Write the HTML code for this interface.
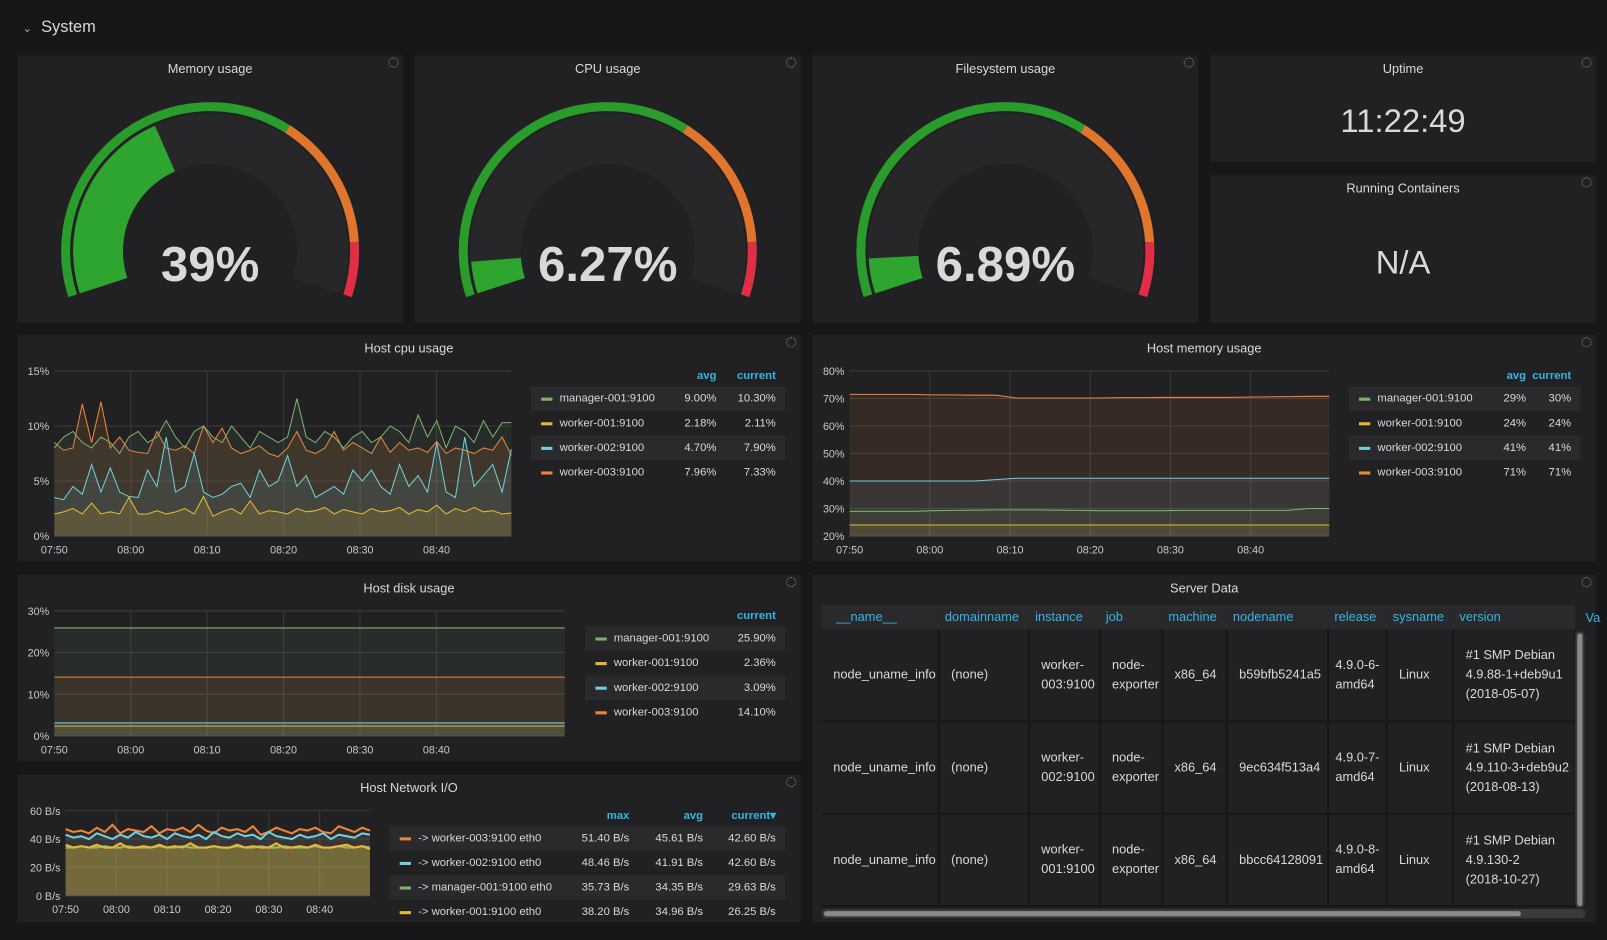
<!DOCTYPE html>
<html><head><meta charset="utf-8">
<style>
*{box-sizing:border-box;margin:0;padding:0}
body{width:1607px;height:940px;background:#161719;font-family:"Liberation Sans",sans-serif;color:#d8d9da;overflow:hidden;position:relative}
#root{position:absolute;left:0;top:0;width:1568px;height:917px;transform:scale(1.02487);transform-origin:0 0}
.panel{position:absolute;background:#212124}
.ptitle{position:absolute;left:0;right:0;top:6px;text-align:center;font-size:12.5px;color:#d8d9da}
.spin{position:absolute;right:4px;top:2px;width:10px;height:10px;border:1px dotted #888;border-radius:50%}
.big{position:absolute;left:0;right:0;text-align:center;font-weight:bold;color:#d8d9da}
svg text{font-family:"Liberation Sans",sans-serif}
.leg{position:absolute;font-size:11px;color:#d8d9da}
.leg .row{position:relative;height:24px;line-height:24px}
.leg .row.alt{background:#2a2a2d}
.leg .hdr{height:20px;line-height:20px;color:#33b5e5;font-weight:bold;position:relative}
.sw{position:absolute;top:11px;width:11px;height:3px}
.tbl{position:absolute;left:802px;top:590px;width:735px;height:296px;overflow:hidden;font-size:12.5px}
.tbl table{border-collapse:collapse;table-layout:fixed;width:735px}
.tbl th{height:24px;background:#2a2a2d;color:#33b5e5;font-weight:normal;text-align:left;padding-left:6px;font-size:12.5px;white-space:nowrap}
.tbl td{height:90px;border-right:2px solid #161719;border-bottom:2px solid #161719;padding:0 1px 0 11px;line-height:19px;color:#d8d9da;vertical-align:middle}
.tbl td.rel{white-space:nowrap;padding-left:6px}
</style></head><body>
<div id="root">
<div style="position:absolute;left:22px;top:18px;font-size:16px;color:#d8d9da"><span style="font-size:11px;color:#aaa">&#8964;</span>&nbsp; System</div>

<div class="panel" style="left:17px;top:54px;width:376px;height:261px"><div class="ptitle">Memory usage</div><div class="spin"></div><svg id="g1" width="376" height="261" style="position:absolute;left:0;top:0"></svg></div>
<div class="panel" style="left:405px;top:54px;width:376px;height:261px"><div class="ptitle">CPU usage</div><div class="spin"></div><svg id="g2" width="376" height="261" style="position:absolute;left:0;top:0"></svg></div>
<div class="panel" style="left:793px;top:54px;width:376px;height:261px"><div class="ptitle">Filesystem usage</div><div class="spin"></div><svg id="g3" width="376" height="261" style="position:absolute;left:0;top:0"></svg></div>
<div class="panel" style="left:1181px;top:54px;width:376px;height:104px"><div class="ptitle">Uptime</div><div class="spin"></div><div class="big" style="top:46px;font-size:32px;font-weight:normal">11:22:49</div></div>
<div class="panel" style="left:1181px;top:171px;width:376px;height:144px"><div class="ptitle">Running Containers</div><div class="spin"></div><div class="big" style="top:67px;font-size:32px;font-weight:normal">N/A</div></div>

<div class="panel" style="left:17px;top:327px;width:764px;height:221px"><div class="ptitle">Host cpu usage</div><div class="spin"></div></div>
<div class="panel" style="left:793px;top:327px;width:764px;height:221px"><div class="ptitle">Host memory usage</div><div class="spin"></div></div>
<div class="panel" style="left:17px;top:561px;width:764px;height:182px"><div class="ptitle">Host disk usage</div><div class="spin"></div></div>
<div class="panel" style="left:17px;top:756px;width:764px;height:144px"><div class="ptitle">Host Network I/O</div><div class="spin"></div></div>
<div class="panel" style="left:793px;top:561px;width:764px;height:339px"><div class="ptitle">Server Data</div><div class="spin"></div></div>

<svg id="charts" width="1568" height="917" style="position:absolute;left:0;top:0"></svg>

<div class="leg" style="left:518px;top:357px;width:248px">
 <div class="hdr"><span style="position:absolute;right:67px">avg</span><span style="position:absolute;right:9px">current</span></div>
 <div class="row alt"><span class="sw" style="left:10px;background:#7eb26d"></span><span style="position:absolute;left:28px">manager-001:9100</span><span style="position:absolute;right:67px">9.00%</span><span style="position:absolute;right:9px">10.30%</span></div>
 <div class="row"><span class="sw" style="left:10px;background:#eab839"></span><span style="position:absolute;left:28px">worker-001:9100</span><span style="position:absolute;right:67px">2.18%</span><span style="position:absolute;right:9px">2.11%</span></div>
 <div class="row alt"><span class="sw" style="left:10px;background:#6ed0e0"></span><span style="position:absolute;left:28px">worker-002:9100</span><span style="position:absolute;right:67px">4.70%</span><span style="position:absolute;right:9px">7.90%</span></div>
 <div class="row"><span class="sw" style="left:10px;background:#ef843c"></span><span style="position:absolute;left:28px">worker-003:9100</span><span style="position:absolute;right:67px">7.96%</span><span style="position:absolute;right:9px">7.33%</span></div>
</div>
<div class="leg" style="left:1316px;top:357px;width:226px">
 <div class="hdr"><span style="position:absolute;right:53px">avg</span><span style="position:absolute;right:9px">current</span></div>
 <div class="row alt"><span class="sw" style="left:10px;background:#7eb26d"></span><span style="position:absolute;left:28px">manager-001:9100</span><span style="position:absolute;right:53px">29%</span><span style="position:absolute;right:9px">30%</span></div>
 <div class="row"><span class="sw" style="left:10px;background:#eab839"></span><span style="position:absolute;left:28px">worker-001:9100</span><span style="position:absolute;right:53px">24%</span><span style="position:absolute;right:9px">24%</span></div>
 <div class="row alt"><span class="sw" style="left:10px;background:#6ed0e0"></span><span style="position:absolute;left:28px">worker-002:9100</span><span style="position:absolute;right:53px">41%</span><span style="position:absolute;right:9px">41%</span></div>
 <div class="row"><span class="sw" style="left:10px;background:#ef843c"></span><span style="position:absolute;left:28px">worker-003:9100</span><span style="position:absolute;right:53px">71%</span><span style="position:absolute;right:9px">71%</span></div>
</div>
<div class="leg" style="left:571px;top:591px;width:195px">
 <div class="hdr"><span style="position:absolute;right:9px">current</span></div>
 <div class="row alt"><span class="sw" style="left:10px;background:#7eb26d"></span><span style="position:absolute;left:28px">manager-001:9100</span><span style="position:absolute;right:9px">25.90%</span></div>
 <div class="row"><span class="sw" style="left:10px;background:#eab839"></span><span style="position:absolute;left:28px">worker-001:9100</span><span style="position:absolute;right:9px">2.36%</span></div>
 <div class="row alt"><span class="sw" style="left:10px;background:#6ed0e0"></span><span style="position:absolute;left:28px">worker-002:9100</span><span style="position:absolute;right:9px">3.09%</span></div>
 <div class="row"><span class="sw" style="left:10px;background:#ef843c"></span><span style="position:absolute;left:28px">worker-003:9100</span><span style="position:absolute;right:9px">14.10%</span></div>
</div>
<div class="leg" style="left:380px;top:786px;width:386px">
 <div class="hdr"><span style="position:absolute;right:152px">max</span><span style="position:absolute;right:80px">avg</span><span style="position:absolute;right:9px">current&#9662;</span></div>
 <div class="row alt"><span class="sw" style="left:10px;background:#ef843c"></span><span style="position:absolute;left:28px">-&gt; worker-003:9100 eth0</span><span style="position:absolute;right:152px">51.40 B/s</span><span style="position:absolute;right:80px">45.61 B/s</span><span style="position:absolute;right:9px">42.60 B/s</span></div>
 <div class="row"><span class="sw" style="left:10px;background:#6ed0e0"></span><span style="position:absolute;left:28px">-&gt; worker-002:9100 eth0</span><span style="position:absolute;right:152px">48.46 B/s</span><span style="position:absolute;right:80px">41.91 B/s</span><span style="position:absolute;right:9px">42.60 B/s</span></div>
 <div class="row alt"><span class="sw" style="left:10px;background:#7eb26d"></span><span style="position:absolute;left:28px">-&gt; manager-001:9100 eth0</span><span style="position:absolute;right:152px">35.73 B/s</span><span style="position:absolute;right:80px">34.35 B/s</span><span style="position:absolute;right:9px">29.63 B/s</span></div>
 <div class="row"><span class="sw" style="left:10px;background:#eab839"></span><span style="position:absolute;left:28px">-&gt; worker-001:9100 eth0</span><span style="position:absolute;right:152px">38.20 B/s</span><span style="position:absolute;right:80px">34.96 B/s</span><span style="position:absolute;right:9px">26.25 B/s</span></div>
</div>

<div class="tbl">
<table>
<colgroup><col style="width:114px"><col style="width:88px"><col style="width:69px"><col style="width:61px"><col style="width:63px"><col style="width:99px"><col style="width:57px"><col style="width:65px"><col style="width:119px"></colgroup>
<tr><th style="padding-left:14px">__name__</th><th>domainname</th><th>instance</th><th>job</th><th>machine</th><th>nodename</th><th>release</th><th>sysname</th><th>version</th></tr>
<tr><td>node_uname_info</td><td>(none)</td><td>worker-003:9100</td><td>node-exporter</td><td>x86_64</td><td>b59bfb5241a5</td><td class="rel">4.9.0-6-<br>amd64</td><td>Linux</td><td style="white-space:nowrap">#1 SMP Debian<br>4.9.88-1+deb9u1<br>(2018-05-07)</td></tr>
<tr><td>node_uname_info</td><td>(none)</td><td>worker-002:9100</td><td>node-exporter</td><td>x86_64</td><td>9ec634f513a4</td><td class="rel">4.9.0-7-<br>amd64</td><td>Linux</td><td style="white-space:nowrap">#1 SMP Debian<br>4.9.110-3+deb9u2<br>(2018-08-13)</td></tr>
<tr><td>node_uname_info</td><td>(none)</td><td>worker-001:9100</td><td>node-exporter</td><td>x86_64</td><td>bbcc64128091</td><td class="rel">4.9.0-8-<br>amd64</td><td>Linux</td><td style="white-space:nowrap">#1 SMP Debian<br>4.9.130-2<br>(2018-10-27)</td></tr>
</table></div>
<div style="position:absolute;left:1547px;top:596px;font-size:12.5px;color:#33b5e5">Va</div>
<div style="position:absolute;left:1537px;top:616px;width:9px;height:270px;background:#3a3a3d;border-radius:4px"><div style="margin:2px;height:266px;width:5px;background:#8a8a8a;border-radius:3px"></div></div>
<div style="position:absolute;left:802px;top:887px;width:745px;height:9px;background:#3a3a3d;border-radius:4px"><div style="margin:2px;height:5px;width:680px;background:#8a8a8a;border-radius:3px"></div></div>
</div>

<script>
// ---------- gauge data ----------
const gaugeValues = [0.39, 0.0627, 0.0689];
const gaugeLabels = ["39%", "6.27%", "6.89%"];
const gaugeThresholds = [0.65, 0.90];

// ---------- cpu chart data ----------
const cpuTicks = ["0%","5%","10%","15%"];
const timeTicks = ["07:50","08:00","08:10","08:20","08:30","08:40"];
const cpuManager = [8,9,9.5,8.5,8,9,8.5,7.5,9,9.5,8.5,9,10.5,9,8,9.5,10,9,8.5,10,9,8,9.5,9,8.5,9,12.5,9,8.5,9.5,9,8,9,9.5,8.5,9,10,9.5,8.5,11,9,10.5,8,10,9.5,8.5,10.5,9,10.3,10.3];
const cpuWorker3 = [8.5,7.8,8,12,8.5,12.2,8,9,7.8,7.6,7.5,9.5,8,7.8,8.2,7.5,10,8.5,9.8,8,7.5,7.8,8.2,7.5,7.2,8,9.5,7.8,7.5,8,9.5,7.8,8.5,8,7.5,9,7.6,8.5,7.8,8,7.6,8.6,7.5,8,7.8,7.5,8,7.8,9,7.33];
const cpuWorker2 = [3.5,3.3,4.5,3.8,6.5,4,6.2,4,3.6,3.5,6,4.5,9,4,4.5,7.5,4,3.5,3.8,4.5,4.8,3.5,6,4.5,5,7.3,4.5,5.5,3.5,4,4.5,3.8,6,5,6,4.5,3.8,6.5,4.5,5.5,4,8.5,4,3.5,9,4.5,5.5,6.5,4,7.9];
const cpuWorker1 = [2,2.2,2.5,2,3,2,2.2,2,3.5,2,2,2.3,2,2.2,2.5,2,3.6,1.8,2.2,2.5,2,3.2,2,2.3,2.2,2,2.5,2.2,2.3,2.6,2,2.4,2.2,2,2.5,2.2,2.3,2.6,2,2.4,2.2,2.8,2,2.5,2.2,2.6,2.2,2.3,2,2.1];

// ---------- memory chart data ----------
const memTicks = ["20%","30%","40%","50%","60%","70%","80%"];
const memWorker3 = [71.5,71.5,71.5,71.5,71.3,71.3,71.2,71.2,70.2,70.2,70.2,70.2,70.2,70.3,70.3,70.4,70.4,70.4,70.4,70.5,70.6,70.7,70.8,70.8];
const memWorker2 = [40,40,40,40,40,40,40,40.5,41,41,41,41,41,41,41,41,41,41,41,41,41,41,41,41];
const memManager = [29,29,29,29,29.2,29.3,29.4,29.5,29.5,29.5,29.4,29.3,29.2,29.2,29.2,29.2,29.3,29.3,29.3,29.3,29.3,29.3,30,30];
const memWorker1 = [24,24,24,24,24,24,24,24,24,24,24,24,24,24,24,24,24,24,24,24,24,24,24,24];

// ---------- disk chart data ----------
const diskTicks = ["0%","10%","20%","30%"];
const diskManager = [25.9,25.9,25.9,25.9,25.9,25.9];
const diskWorker3 = [14.1,14.1,14.1,14.1,14.1,14.1];
const diskWorker2 = [3.09,3.09,3.09,3.09,3.09,3.09];
const diskWorker1 = [2.36,2.36,2.36,2.36,2.36,2.36];

// ---------- network chart data ----------
const netTicks = ["0 B/s","20 B/s","40 B/s","60 B/s"];
const netWorker3 = [47,45,46,44,48,45,50,44,47,46,45,49,44,47,46,48,45,50,46,44,48,46,47,45,49,43,45,48,46,44,47,46,48,45,44,49,47,45,48,46];
const netWorker2 = [43,41,42,40,44,42,40,43,41,45,42,41,43,40,44,42,41,43,40,45,42,41,44,42,43,40,45,42,41,40,43,41,42,44,40,43,42,41,44,43];
const netManager = [34,34,35,34,34,35,34,34,35,34,34,34,35,34,34,35,34,34,34,35,34,34,35,34,34,35,34,34,35,34,34,34,35,34,34,35,34,34,35,34];
const netWorker1 = [36,34,35,34,36,34,34,37,34,34,35,34,36,34,35,34,37,34,34,35,34,34,36,34,35,34,34,37,34,34,35,34,36,34,34,35,36,34,35,33];

const NS = "http://www.w3.org/2000/svg";
function mk(parent, tag, attrs){const e=document.createElementNS(NS,tag);for(const k in attrs)e.setAttribute(k,attrs[k]);parent.appendChild(e);return e;}

// ---------- gauges ----------
const A0 = 162, SWEEP = 216;
function pt(cx,cy,r,deg){const a=deg*Math.PI/180;return [cx+r*Math.cos(a),cy+r*Math.sin(a)];}
function band(cx,cy,r1,r2,f1,f2){
  const a1=A0+SWEEP*f1,a2=A0+SWEEP*f2,large=(a2-a1)>180?1:0;
  const p1=pt(cx,cy,r2,a1),p2=pt(cx,cy,r2,a2),p3=pt(cx,cy,r1,a2),p4=pt(cx,cy,r1,a1);
  return `M${p1[0]},${p1[1]} A${r2},${r2} 0 ${large} 1 ${p2[0]},${p2[1]} L${p3[0]},${p3[1]} A${r1},${r1} 0 ${large} 0 ${p4[0]},${p4[1]} Z`;
}
["g1","g2","g3"].forEach((id,i)=>{
  const s=document.getElementById(id);const cx=188,cy=191;
  const b1=mk(s,"path",{d:band(cx,cy,136.6,145.4,0,gaugeThresholds[0]),fill:"#299c2c"});
  
  
  const b2=mk(s,"path",{d:band(cx,cy,136.6,145.4,gaugeThresholds[0],gaugeThresholds[1]),fill:"#e0752d"});
  
  
  const b3=mk(s,"path",{d:band(cx,cy,136.6,145.4,gaugeThresholds[1],1),fill:"#e02f44"});
  
  
  const bg=mk(s,"path",{d:band(cx,cy,85,134.6,0,1),fill:"#272729"});
  
  
  const v=mk(s,"path",{d:band(cx,cy,85,133.6,0,gaugeValues[i]),fill:"#2ea52f"});
  
  
  const t=mk(s,"text",{x:cx,y:220,"text-anchor":"middle","font-size":48,"font-weight":"bold",fill:"#d8d9da"});
  t.textContent=gaugeLabels[i];
  
  
});

// ---------- time series ----------
const C=document.getElementById("charts");
function chart(o){
  const xs=(m)=>o.x0+(o.x1-o.x0)*m/o.tEnd;
  const ys=(v)=>o.y1-(o.y1-o.y0)*(v-o.vmin)/(o.vmax-o.vmin);
  o.tickVals.forEach((tv,i)=>{
    const g=mk(C,"line",{x1:o.x0,x2:o.x1,y1:ys(tv),y2:ys(tv),stroke:"#3a3a3c","stroke-width":1});
    
    
    const t=mk(C,"text",{x:o.x0-5,y:ys(tv)+4,"text-anchor":"end","font-size":10.5,fill:"#c8c9ca"});
    t.textContent=o.ticks[i];
    
    
  });
  timeTicks.forEach((lb,i)=>{
    const x=xs(i*10);
    if(i>0){const g=mk(C,"line",{x1:x,x2:x,y1:o.y0,y2:o.y1,stroke:"#3a3a3c"});
    
    }
    const t=mk(C,"text",{x:x,y:o.y1+17,"text-anchor":"middle","font-size":10.5,fill:"#c8c9ca"});
    t.textContent=lb;
    
    
  });
  o.series.forEach(s=>{
    const n=s.data.length;
    const pts=s.data.map((v,i)=>[xs(o.tEnd*i/(n-1)),ys(v)]);
    const line=pts.map(p=>p[0].toFixed(1)+","+p[1].toFixed(1)).join(" ");
    const f=mk(C,"polygon",{points:line+` ${o.x1},${o.y1} ${o.x0},${o.y1}`,fill:s.color,"fill-opacity":s.fo});
    
    
    const l=mk(C,"polyline",{points:line,fill:"none",stroke:s.color,"stroke-width":s.w||1});
    
    
  });
  const ax=mk(C,"line",{x1:o.x0,x2:o.x1,y1:o.y1,y2:o.y1,stroke:"#555"});
  
  
}
chart({x0:53,x1:499,y0:362,y1:523,vmin:0,vmax:15,ticks:cpuTicks,tickVals:[0,5,10,15],tEnd:59.8,series:[
 {name:"cpu-worker-003",data:cpuWorker3,color:"#ef843c",fo:0.12},
 {name:"cpu-manager-001",data:cpuManager,color:"#7eb26d",fo:0.08},
 {name:"cpu-worker-002",data:cpuWorker2,color:"#6ed0e0",fo:0.1},
 {name:"cpu-worker-001",data:cpuWorker1,color:"#eab839",fo:0.15}]});
chart({x0:829,x1:1297,y0:362,y1:523,vmin:20,vmax:80,ticks:memTicks,tickVals:[20,30,40,50,60,70,80],tEnd:59.8,series:[
 {name:"mem-worker-003",data:memWorker3,color:"#ef843c",fo:0.1},
 {name:"mem-worker-002",data:memWorker2,color:"#6ed0e0",fo:0.08},
 {name:"mem-manager-001",data:memManager,color:"#7eb26d",fo:0.08},
 {name:"mem-worker-001",data:memWorker1,color:"#eab839",fo:0.1}]});
chart({x0:53,x1:551,y0:596,y1:718,vmin:0,vmax:30,ticks:diskTicks,tickVals:[0,10,20,30],tEnd:66.8,series:[
 {name:"disk-manager-001",data:diskManager,color:"#7eb26d",fo:0.08},
 {name:"disk-worker-003",data:diskWorker3,color:"#ef843c",fo:0.1},
 {name:"disk-worker-002",data:diskWorker2,color:"#6ed0e0",fo:0.1},
 {name:"disk-worker-001",data:diskWorker1,color:"#eab839",fo:0.1}]});
chart({x0:64,x1:361,y0:791,y1:874,vmin:0,vmax:60,ticks:netTicks,tickVals:[0,20,40,60],tEnd:59.9,series:[
 {name:"net-worker-003",data:netWorker3,color:"#ef843c",fo:0.08,w:2},
 {name:"net-worker-002",data:netWorker2,color:"#6ed0e0",fo:0.08,w:2},
 {name:"net-manager-001",data:netManager,color:"#7eb26d",fo:0.15,w:2},
 {name:"net-worker-001",data:netWorker1,color:"#eab839",fo:0.3,w:2}]});
</script>
</body></html>
